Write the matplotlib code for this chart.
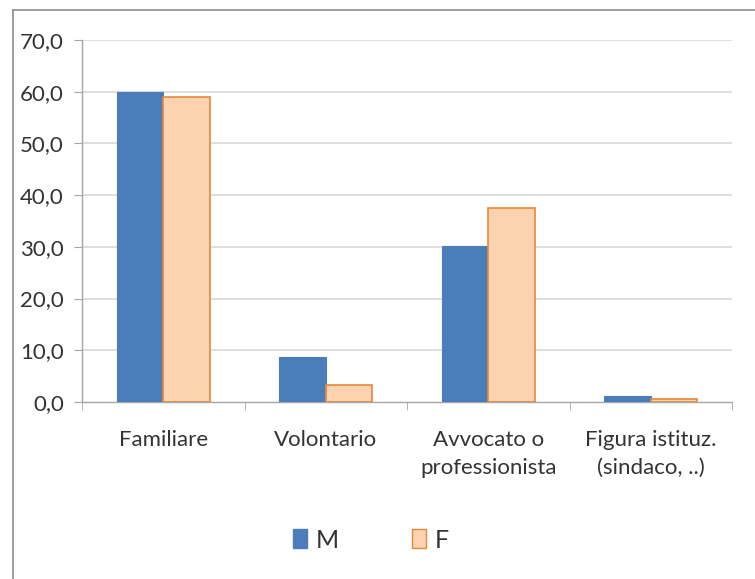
import numpy as np
import matplotlib
from matplotlib import pyplot as plt
from matplotlib.lines import Line2D
from matplotlib.patches import Patch

matplotlib.use("agg")

categories = ["Familiare", "Volontario", "Avvocato o\nprofessionista", "Figura istituz.\n(sindaco, ..)"]
m_values = [60.0, 8.7, 30.2, 1.2]
f_values = [59.0, 3.3, 37.5, 0.6]
y_ticks = [0, 10, 20, 30, 40, 50, 60, 70]
y_labels = ["0,0", "10,0", "20,0", "30,0", "40,0", "50,0", "60,0", "70,0"]

plt.rcParams["font.family"] = ["Lato", "DejaVu Sans"]

blue = "#4A7EBB"
peach = "#FCD3AF"
orange = "#E8873A"
axis_gray = "#A6A6A6"
text_col = "#333333"

fig = plt.figure(figsize=(7.55, 5.79), dpi=100)
ax = fig.add_axes([82 / 755, 1 - 402 / 579, 650 / 755, 362 / 579])

x = np.arange(len(categories))
w = 1 / 3.5
ax.bar(x - w / 2, m_values, w, color=blue, edgecolor=blue, linewidth=0.8, zorder=3)
ax.bar(x + w / 2, f_values, w, color=peach, edgecolor=orange, linewidth=1.2, zorder=3)

ax.set_xlim(-0.5, len(categories) - 0.5)
ax.set_ylim(0, 70)
ax.set_yticks(y_ticks)
ax.set_yticklabels(y_labels, fontsize=16, color=text_col)
ax.set_xticks(x)
ax.set_xticklabels(categories, fontsize=16, color=text_col, linespacing=1.5)
ax.set_xticks(np.arange(len(categories) + 1) - 0.5, minor=True)
ax.tick_params(axis="x", which="major", length=0, pad=20)
ax.tick_params(axis="x", which="minor", length=6, color=axis_gray, direction="out")
ax.tick_params(axis="y", length=6, color=axis_gray, pad=7)

for v in y_ticks[1:]:
    ax.axhline(v, color="#D9D9D9", linewidth=1.2, zorder=1)

for side in ["top", "right"]:
    ax.spines[side].set_visible(False)
for side in ["left", "bottom"]:
    ax.spines[side].set_color(axis_gray)
    ax.spines[side].set_linewidth(1.0)

# outer chart border (top and left visible)
fig.add_artist(Line2D([13 / 755, 1], [1 - 10 / 579] * 2, color="#8C8C8C", linewidth=1.2))
fig.add_artist(Line2D([13 / 755] * 2, [0, 1 - 10 / 579], color="#8C8C8C", linewidth=1.2))

handles = [Patch(facecolor=blue, edgecolor=blue, label="M"),
           Patch(facecolor=peach, edgecolor=orange, label="F")]
fig.legend(handles=handles, loc="center", bbox_to_anchor=(371 / 755, 1 - 540 / 579),
           ncol=2, frameon=False, fontsize=18, handlelength=0.55, handleheight=0.8,
           handletextpad=0.35, columnspacing=2.95, labelcolor=text_col)

plt.savefig("out.png", dpi=100)
